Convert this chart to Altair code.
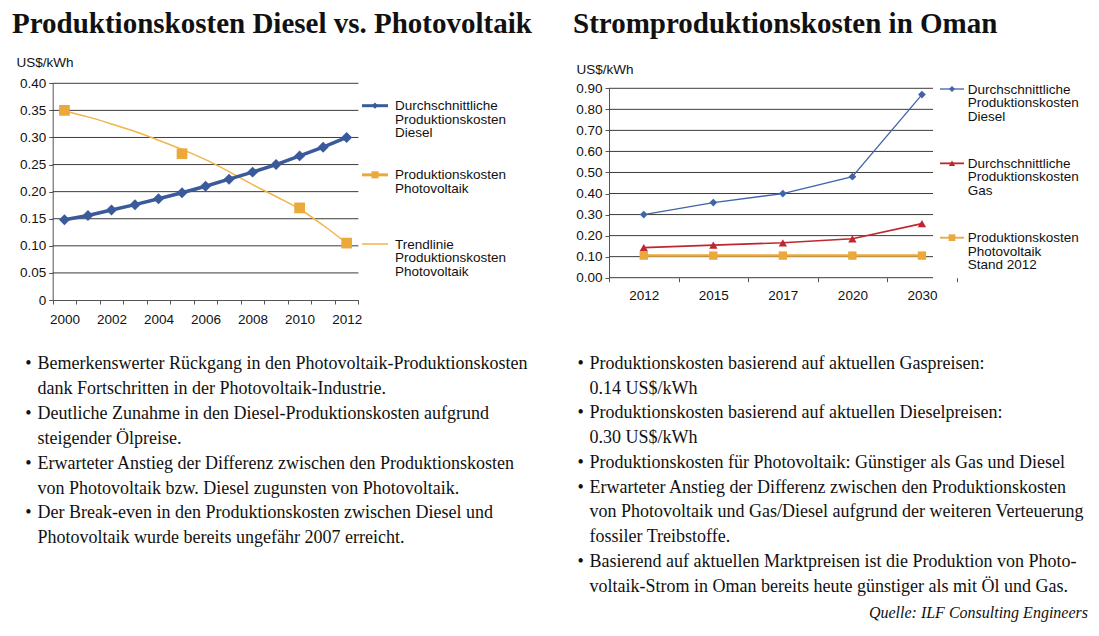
import altair as alt
import pandas as pd

# ---------------- data ----------------
years_left = [2000, 2001, 2002, 2003, 2004, 2005, 2006, 2007, 2008, 2009, 2010, 2011, 2012]
diesel_left = [0.148, 0.156, 0.166, 0.176, 0.187, 0.198, 0.210, 0.223, 0.236, 0.250, 0.266, 0.282, 0.300]
trend_left = [0.349, 0.338, 0.325, 0.311, 0.295, 0.278, 0.259, 0.237, 0.213, 0.191, 0.168, 0.138, 0.105]
pv_years_left = [2000, 2005, 2010, 2012]
pv_left = [0.350, 0.270, 0.170, 0.105]
left_ticks = [0, 0.05, 0.10, 0.15, 0.20, 0.25, 0.30, 0.35, 0.40]

years_right = ["2012", "2015", "2017", "2020", "2030"]
diesel_right = [0.300, 0.357, 0.400, 0.480, 0.870]
gas_right = [0.143, 0.155, 0.166, 0.185, 0.257]
pv_right = [0.105, 0.105, 0.105, 0.105, 0.105]
right_ticks = [0, 0.10, 0.20, 0.30, 0.40, 0.50, 0.60, 0.70, 0.80, 0.90]

title_left = "Produktionskosten Diesel vs. Photovoltaik"
title_right = "Stromproduktionskosten in Oman"
unit_label = "US$/kWh"

legend_left_labels = ["Durchschnittliche\nProduktionskosten\nDiesel",
                      "Produktionskosten\nPhotovoltaik",
                      "Trendlinie\nProduktionskosten\nPhotovoltaik"]
legend_right_labels = ["Durchschnittliche\nProduktionskosten\nDiesel",
                       "Durchschnittliche\nProduktionskosten\nGas",
                       "Produktionskosten\nPhotovoltaik\nStand 2012"]

text_left = [
    ("Bemerkenswerter Rückgang in den Photovoltaik-Produktionskosten", True),
    ("dank Fortschritten in der Photovoltaik-Industrie.", False),
    ("Deutliche Zunahme in den Diesel-Produktionskosten aufgrund", True),
    ("steigender Ölpreise.", False),
    ("Erwarteter Anstieg der Differenz zwischen den Produktionskosten", True),
    ("von Photovoltaik bzw. Diesel zugunsten von Photovoltaik.", False),
    ("Der Break-even in den Produktionskosten zwischen Diesel und", True),
    ("Photovoltaik wurde bereits ungefähr 2007 erreicht.", False),
]
text_right = [
    ("Produktionskosten basierend auf aktuellen Gaspreisen:", True),
    ("0.14 US$/kWh", False),
    ("Produktionskosten basierend auf aktuellen Dieselpreisen:", True),
    ("0.30 US$/kWh", False),
    ("Produktionskosten für Photovoltaik: Günstiger als Gas und Diesel", True),
    ("Erwarteter Anstieg der Differenz zwischen den Produktionskosten", True),
    ("von Photovoltaik und Gas/Diesel aufgrund der weiteren Verteuerung", False),
    ("fossiler Treibstoffe.", False),
    ("Basierend auf aktuellen Marktpreisen ist die Produktion von Photo-", True),
    ("voltaik-Strom in Oman bereits heute günstiger als mit Öl und Gas.", False),
]
source_text = "Quelle: ILF Consulting Engineers"

# ---------------- styling / layout ----------------
W, H = 1083, 620
SANS = "Liberation Sans"
SERIF = "Liberation Serif"
C_DIESEL_L = "#3A5A9B"
C_PV = "#EAA93A"
C_TREND = "#F0B54A"
C_DIESEL_R = "#4064A6"
C_GAS = "#C02630"
C_GRID = "#3c3c3c"
C_AXIS = "#555555"

L_X0, L_X1, L_Y0, L_Y1 = 44.7, 350.4, 292.0, 75.3
R_X0, R_X1, R_XG, R_Y0, R_Y1 = 601.0, 948.7, 925.0, 269.7, 80.3

lx = alt.Scale(type="band", domain=years_left, range=[L_X0, L_X1], paddingInner=0, paddingOuter=0)
ly = alt.Scale(domain=[0, 0.4], range=[L_Y0, L_Y1], nice=False, zero=True)
rx = alt.Scale(type="band", domain=years_right, range=[R_X0, R_X1], paddingInner=0, paddingOuter=0)
ry = alt.Scale(domain=[0, 0.9], range=[R_Y0, R_Y1], nice=False, zero=True)

axis_common = dict(labelFont=SANS, labelFontSize=13.5, labelColor="#111111",
                   tickColor=C_AXIS, domainColor=C_AXIS, tickSize=4, grid=False)

# ---------------- left chart ----------------
left_df = pd.DataFrame({"year": years_left, "diesel": diesel_left, "trend": trend_left})
pv_left_df = pd.DataFrame({"year": pv_years_left, "pv": pv_left})

left_grid = alt.Chart(pd.DataFrame({"v": left_ticks[1:]})).mark_rule(
    color=C_GRID, strokeWidth=1).encode(
    y=alt.Y("v:Q", scale=ly, axis=None),
    x=alt.value(L_X0), x2=alt.value(L_X1))

left_trend = alt.Chart(left_df).mark_line(
    color=C_TREND, strokeWidth=1.5, interpolate="monotone").encode(
    x=alt.X("year:O", scale=lx, axis=None),
    y=alt.Y("trend:Q", scale=ly, axis=None))

left_pv = alt.Chart(pv_left_df).mark_point(
    shape="square", filled=True, size=115, color=C_PV, opacity=1).encode(
    x=alt.X("year:O", scale=lx, axis=None),
    y=alt.Y("pv:Q", scale=ly, axis=None))

left_diesel_line = alt.Chart(left_df).mark_line(
    color=C_DIESEL_L, strokeWidth=3.5).encode(
    x=alt.X("year:O", scale=lx, axis=alt.Axis(
        orient="bottom", offset=L_Y0 - H, tickBand="extent", title=None,
        labelAngle=0, labelPadding=8,
        labelExpr="datum.value % 2 == 0 ? datum.label : ''", **axis_common)),
    y=alt.Y("diesel:Q", scale=ly, axis=alt.Axis(
        orient="left", offset=-L_X0, values=left_ticks, labelPadding=3,
        labelExpr="datum.value == 0 ? '0' : format(datum.value, '.2f')",
        title=unit_label, titleAngle=0, titleAlign="left", titleBaseline="alphabetic",
        titleX=8 - L_X0, titleY=58, titleFont=SANS, titleFontSize=13.5,
        titleFontWeight="normal", titleColor="#111111", **axis_common)))

left_diesel_pts = alt.Chart(left_df).mark_point(
    shape="diamond", filled=True, size=120, color=C_DIESEL_L, opacity=1).encode(
    x=alt.X("year:O", scale=lx, axis=None),
    y=alt.Y("diesel:Q", scale=ly, axis=None))

# left legend
leg_l = pd.DataFrame({"i": [0, 1, 2], "label": legend_left_labels,
                      "color": [C_DIESEL_L, C_PV, C_TREND], "w": [3.0, 3.0, 1.5],
                      "shape": ["diamond", "square", "none"], "s": [40, 50, 0]})
leg_ly = alt.Scale(domain=[0, 2], range=[97.7, 236.0])
leg_l_rule = alt.Chart(leg_l).mark_rule().encode(
    y=alt.Y("i:Q", scale=leg_ly, axis=None), x=alt.value(354), x2=alt.value(380),
    color=alt.Color("color:N", scale=None), strokeWidth=alt.StrokeWidth("w:Q", scale=None))
leg_l_pt = alt.Chart(leg_l[leg_l["s"] > 0]).mark_point(filled=True, opacity=1).encode(
    y=alt.Y("i:Q", scale=leg_ly, axis=None), x=alt.value(367),
    color=alt.Color("color:N", scale=None), shape=alt.Shape("shape:N", scale=None),
    size=alt.Size("s:Q", scale=None))
leg_l_txt = alt.Chart(leg_l).mark_text(
    align="left", baseline="top", lineBreak="\n", lineHeight=13.6, dy=-6.5,
    font=SANS, fontSize=13.5, color="#111111").encode(
    y=alt.Y("i:Q", scale=leg_ly, axis=None), x=alt.value(387), text="label:N")

# ---------------- right chart ----------------
right_df = pd.DataFrame({"year": years_right, "diesel": diesel_right,
                         "gas": gas_right, "pv": pv_right})

right_grid = alt.Chart(pd.DataFrame({"v": right_ticks})).mark_rule(
    color=C_GRID, strokeWidth=1).encode(
    y=alt.Y("v:Q", scale=ry, axis=None),
    x=alt.value(R_X0), x2=alt.value(R_XG))

right_pv_line = alt.Chart(right_df).mark_line(color=C_PV, strokeWidth=2.5).encode(
    x=alt.X("year:O", scale=rx, axis=alt.Axis(
        orient="bottom", offset=R_Y0 - H, tickBand="extent", tickExtra=False,
        domain=False, title=None, labelAngle=0, labelPadding=6.5, **axis_common)),
    y=alt.Y("pv:Q", scale=ry, axis=alt.Axis(
        orient="left", offset=-R_X0, values=right_ticks, format=".2f", labelPadding=3,
        title=unit_label, titleAngle=0, titleAlign="left", titleBaseline="alphabetic",
        titleX=568 - R_X0, titleY=65, titleFont=SANS, titleFontSize=13.5,
        titleFontWeight="normal", titleColor="#111111", **axis_common)))
right_pv_pts = alt.Chart(right_df).mark_point(
    shape="square", filled=True, size=70, color=C_PV, opacity=1).encode(
    x=alt.X("year:O", scale=rx, axis=None), y=alt.Y("pv:Q", scale=ry, axis=None))

right_gas_line = alt.Chart(right_df).mark_line(color=C_GAS, strokeWidth=1.6).encode(
    x=alt.X("year:O", scale=rx, axis=None), y=alt.Y("gas:Q", scale=ry, axis=None))
right_gas_pts = alt.Chart(right_df).mark_point(
    shape="triangle-up", filled=True, size=70, color=C_GAS, opacity=1).encode(
    x=alt.X("year:O", scale=rx, axis=None), y=alt.Y("gas:Q", scale=ry, axis=None))

right_diesel_line = alt.Chart(right_df).mark_line(color=C_DIESEL_R, strokeWidth=1.3).encode(
    x=alt.X("year:O", scale=rx, axis=None), y=alt.Y("diesel:Q", scale=ry, axis=None))
right_diesel_pts = alt.Chart(right_df).mark_point(
    shape="diamond", filled=True, size=60, color=C_DIESEL_R, opacity=1).encode(
    x=alt.X("year:O", scale=rx, axis=None), y=alt.Y("diesel:Q", scale=ry, axis=None))

leg_r = pd.DataFrame({"i": [0, 1, 2], "label": legend_right_labels,
                      "color": [C_DIESEL_R, C_GAS, C_PV], "w": [1.3, 1.8, 1.8],
                      "shape": ["diamond", "triangle-up", "square"], "s": [36, 40, 45]})
leg_ry = alt.Scale(domain=[0, 2], range=[81.0, 229.7])
leg_r_rule = alt.Chart(leg_r).mark_rule().encode(
    y=alt.Y("i:Q", scale=leg_ry, axis=None), x=alt.value(932), x2=alt.value(956),
    color=alt.Color("color:N", scale=None), strokeWidth=alt.StrokeWidth("w:Q", scale=None))
leg_r_pt = alt.Chart(leg_r).mark_point(filled=True, opacity=1).encode(
    y=alt.Y("i:Q", scale=leg_ry, axis=None), x=alt.value(944),
    color=alt.Color("color:N", scale=None), shape=alt.Shape("shape:N", scale=None),
    size=alt.Size("s:Q", scale=None))
leg_r_txt = alt.Chart(leg_r).mark_text(
    align="left", baseline="top", lineBreak="\n", lineHeight=13.6, dy=-6.5,
    font=SANS, fontSize=13.5, color="#111111").encode(
    y=alt.Y("i:Q", scale=leg_ry, axis=None), x=alt.value(959.7), text="label:N")

# ---------------- titles ----------------
title_df = pd.DataFrame({"t": [title_left, title_right]})
t_left = alt.Chart(title_df.iloc[[0]]).mark_text(
    align="left", baseline="alphabetic", font=SERIF, fontSize=29, fontWeight="bold",
    color="#111111").encode(x=alt.value(4), y=alt.value(25), text="t:N")
t_right = alt.Chart(title_df.iloc[[1]]).mark_text(
    align="left", baseline="alphabetic", font=SERIF, fontSize=29, fontWeight="bold",
    color="#111111").encode(x=alt.value(565), y=alt.value(25), text="t:N")

# ---------------- bullet text ----------------
tl = pd.DataFrame({"i": list(range(len(text_left))), "text": [t for t, b in text_left],
                   "b": ["•" if b else "" for t, b in text_left]})
tr = pd.DataFrame({"i": list(range(len(text_right))), "text": [t for t, b in text_right],
                   "b": ["•" if b else "" for t, b in text_right]})
tl_y = alt.Scale(domain=[0, 7], range=[356.0, 530.3])
tr_y = alt.Scale(domain=[0, 9], range=[356.0, 578.7])
txt_kw = dict(baseline="middle", font=SERIF, fontSize=18, color="#111111")

tl_txt = alt.Chart(tl).mark_text(align="left", **txt_kw).encode(
    y=alt.Y("i:Q", scale=tl_y, axis=None), x=alt.value(29.5), text="text:N")
tl_bul = alt.Chart(tl[tl["b"] != ""]).mark_text(align="center", **txt_kw).encode(
    y=alt.Y("i:Q", scale=tl_y, axis=None), x=alt.value(20.3), text="b:N")
tr_txt = alt.Chart(tr).mark_text(align="left", **txt_kw).encode(
    y=alt.Y("i:Q", scale=tr_y, axis=None), x=alt.value(581.5), text="text:N")
tr_bul = alt.Chart(tr[tr["b"] != ""]).mark_text(align="center", **txt_kw).encode(
    y=alt.Y("i:Q", scale=tr_y, axis=None), x=alt.value(572.7), text="b:N")

src = alt.Chart(pd.DataFrame({"t": [source_text]})).mark_text(
    align="right", baseline="middle", font=SERIF, fontSize=16, fontStyle="italic",
    color="#111111").encode(x=alt.value(1080), y=alt.value(605), text="t:N")

chart = alt.layer(
    left_grid, left_trend, left_pv, left_diesel_line, left_diesel_pts,
    leg_l_rule, leg_l_pt, leg_l_txt,
    right_grid, right_pv_line, right_pv_pts, right_gas_line, right_gas_pts,
    right_diesel_line, right_diesel_pts, leg_r_rule, leg_r_pt, leg_r_txt,
    t_left, t_right, tl_txt, tl_bul, tr_txt, tr_bul, src,
).resolve_scale(
    x="independent", y="independent"
).resolve_axis(
    x="independent", y="independent"
).properties(
    width=W, height=H, autosize=alt.AutoSizeParams(type="none"), padding=0,
    background="white"
).configure_view(stroke=None)

chart.save("out.html", embed_options={"renderer": "svg", "actions": False})
